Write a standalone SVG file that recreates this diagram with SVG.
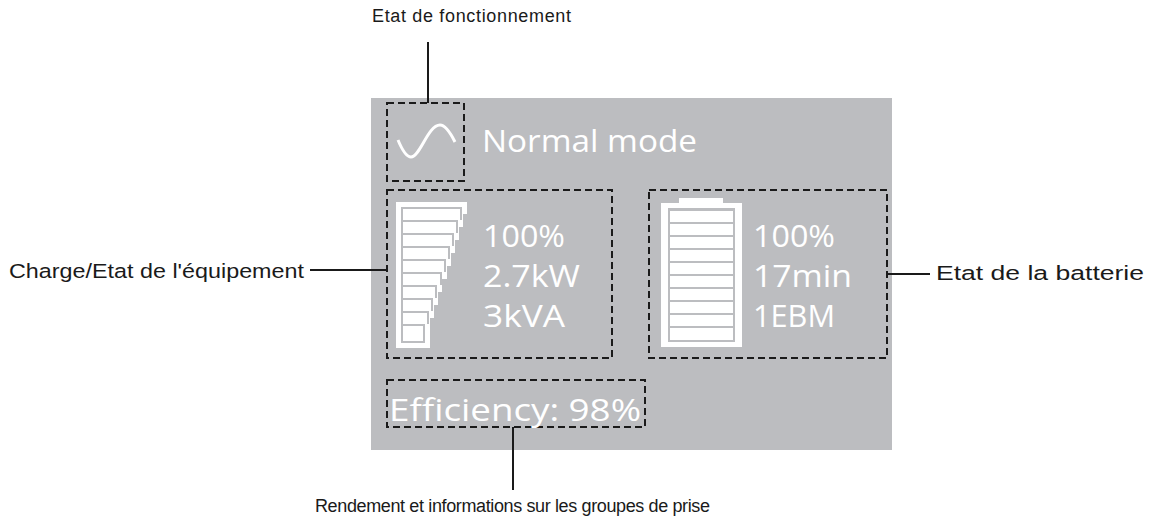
<svg xmlns="http://www.w3.org/2000/svg" width="1153" height="529" viewBox="0 0 1153 529">
<style>
.lbl{font-family:"Liberation Sans",Arial,sans-serif;font-size:18px;fill:#1a1a1a}
.big{font-size:20.5px}
.scr{font-family:"Open Sans","DejaVu Sans",sans-serif;font-size:31px;fill:#fff}
.dash{fill:none;stroke:#1a1a1a;stroke-width:2;stroke-dasharray:7 4}
.ln{stroke:#1a1a1a;stroke-width:2;fill:none}
.w{fill:#fff}.g{fill:#bcbdc0}
</style>
<rect x="371" y="98" width="521" height="352" fill="#bcbdc0"/>
<g id="connectors">
<line class="ln" x1="428" y1="42" x2="428" y2="103"/>
<line class="ln" x1="310" y1="270" x2="387" y2="270"/>
<line class="ln" x1="887" y1="274" x2="930" y2="274"/>
<line class="ln" x1="513" y1="427" x2="513" y2="490"/>
</g>
<g id="status">
<rect class="dash" x="387" y="103" width="77" height="78"/>
<path d="M398 140 C403 152 407 157 411 157 C420 157 428 125 440 125 C446 125 451 134 455 142" fill="none" stroke="#fff" stroke-width="3"/>
<text class="scr" x="482" y="152" textLength="215" lengthAdjust="spacingAndGlyphs">Normal mode</text>
<text class="lbl" x="372" y="22" textLength="199" lengthAdjust="spacing">Etat de fonctionnement</text>
</g>
<g id="load">
<rect class="dash" x="387" y="190" width="225" height="168"/>
<rect class="w" x="396" y="202" width="71" height="12"/>
<rect class="w" x="396" y="213" width="67" height="14"/>
<rect class="w" x="396" y="226" width="63" height="14"/>
<rect class="w" x="396" y="239" width="59" height="14"/>
<rect class="w" x="396" y="252" width="55" height="14"/>
<rect class="w" x="396" y="265" width="51" height="14"/>
<rect class="w" x="396" y="278" width="46" height="14"/>
<rect class="w" x="396" y="291" width="42" height="14"/>
<rect class="w" x="396" y="304" width="38" height="14"/>
<rect class="w" x="396" y="317" width="34" height="31"/>
<path class="g" d="M401 207 H462 V220 H458 V233 H454 V246 H450 V259 H446 V272 H442 V285 H437 V298 H433 V311 H429 V324 H425 V343 H401 Z"/>
<g class="w">
<rect x="403" y="209" width="57" height="11"/>
<rect x="403" y="222" width="53" height="11"/>
<rect x="403" y="235" width="49" height="11"/>
<rect x="403" y="248" width="45" height="11"/>
<rect x="403" y="261" width="41" height="11"/>
<rect x="403" y="274" width="37" height="11"/>
<rect x="403" y="287" width="32" height="11"/>
<rect x="403" y="300" width="28" height="11"/>
<rect x="403" y="313" width="24" height="11"/>
<rect x="403" y="326" width="20" height="15"/>
</g>
<text class="scr" x="483" y="247" textLength="82" lengthAdjust="spacingAndGlyphs">100%</text>
<text class="scr" x="483" y="287" textLength="97" lengthAdjust="spacingAndGlyphs">2.7kW</text>
<text class="scr" x="483" y="327" textLength="82" lengthAdjust="spacingAndGlyphs">3kVA</text>
<text class="lbl big" x="9" y="278" textLength="295" lengthAdjust="spacingAndGlyphs">Charge/Etat de l'équipement</text>
</g>
<g id="battery">
<rect class="dash" x="649" y="190" width="238" height="168"/>
<rect class="w" x="679" y="198" width="44" height="6"/>
<rect class="w" x="661" y="203" width="81" height="144"/>
<rect class="g" x="668" y="208" width="67" height="134"/>
<g class="w">
<rect x="670" y="211" width="63" height="11"/>
<rect x="670" y="224" width="63" height="11"/>
<rect x="670" y="237" width="63" height="11"/>
<rect x="670" y="250" width="63" height="11"/>
<rect x="670" y="263" width="63" height="11"/>
<rect x="670" y="276" width="63" height="11"/>
<rect x="670" y="289" width="63" height="11"/>
<rect x="670" y="302" width="63" height="11"/>
<rect x="670" y="315" width="63" height="11"/>
<rect x="670" y="328" width="63" height="12"/>
</g>
<text class="scr" x="753" y="247" textLength="82" lengthAdjust="spacingAndGlyphs">100%</text>
<text class="scr" x="753" y="287" textLength="99" lengthAdjust="spacingAndGlyphs">17min</text>
<text class="scr" x="753" y="327" textLength="82" lengthAdjust="spacingAndGlyphs">1EBM</text>
<text class="lbl big" x="936" y="280" textLength="208" lengthAdjust="spacingAndGlyphs">Etat de la batterie</text>
</g>
<g id="efficiency">
<rect class="dash" x="387" y="380" width="258" height="47"/>
<text class="scr" x="389" y="421" textLength="252" lengthAdjust="spacingAndGlyphs">Efficiency: 98%</text>
<text class="lbl" x="315" y="512" textLength="395" lengthAdjust="spacing">Rendement et informations sur les groupes de prise</text>
</g>
</svg>
